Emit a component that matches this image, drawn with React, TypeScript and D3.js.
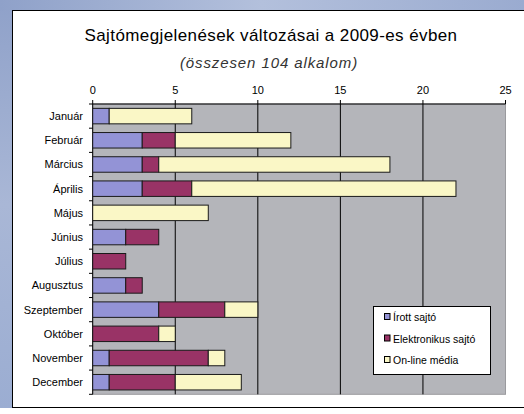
import React from 'react';
import * as d3 from 'd3';

const months = ['Január', 'Február', 'Március', 'Április', 'Május', 'Június', 'Július', 'Augusztus', 'Szeptember', 'Október', 'November', 'December'];
const irott = [1, 3, 3, 3, 0, 2, 0, 2, 4, 0, 1, 1];
const elektronikus = [0, 2, 1, 3, 0, 2, 2, 1, 4, 4, 6, 4];
const online = [5, 7, 14, 16, 7, 0, 0, 0, 2, 1, 1, 4];
const seriesNames = ['Írott sajtó', 'Elektronikus sajtó', 'On-line média'];
const colors = ['#9393d6', '#993366', '#faf7c6'];
const xTicks = [0, 5, 10, 15, 20, 25];

const W = 524, H = 414;
const left = 92.7, right = 505.5, top = 104, bottom = 394.3;
const font = '"Liberation Sans", Arial, sans-serif';

export default function App() {
  const x = d3.scaleLinear().domain([0, 25]).range([left, right]);
  const y = d3.scaleBand().domain(months).range([top, bottom]).paddingInner(0.36).paddingOuter(0.18);
  const step = y.step();

  const rows = months.map((m, i) => ({ m, a: irott[i], b: elektronikus[i], c: online[i] }));
  const stacked = d3.stack<any>().keys(['a', 'b', 'c'])(rows);

  return (
    <svg width={W} height={H} style={{ position: 'absolute', left: 0, top: 0 }} fontFamily={font}>
      <defs>
        <linearGradient id="bgL" x1="0" y1="0" x2="0" y2="1">
          <stop offset="0" stopColor="#8fa1c9" />
          <stop offset="0.5" stopColor="#a9b7d6" />
          <stop offset="1" stopColor="#9badd2" />
        </linearGradient>
        <linearGradient id="bgT" x1="0" y1="0" x2="1" y2="0">
          <stop offset="0" stopColor="#8fa1c9" />
          <stop offset="0.5" stopColor="#b3c0dc" />
          <stop offset="1" stopColor="#9aabd0" />
        </linearGradient>
      </defs>
      <rect x={0} y={0} width={W} height={H} fill="#ffffff" />
      <rect x={0} y={0} width={13} height={408} fill="url(#bgL)" />
      <rect x={0} y={0} width={W} height={10.5} fill="url(#bgT)" />
      <rect x={12.5} y={10.5} width={530} height={397} fill="#ffffff" stroke="#000" strokeWidth={1} />

      <text x={271} y={41} textAnchor="middle" fontSize={17} letterSpacing={0.4} fill="#000">Sajtómegjelenések változásai a 2009-es évben</text>
      <text x={269} y={68} textAnchor="middle" fontSize={15} letterSpacing={0.9} fontStyle="italic" fill="#333">(összesen 104 alkalom)</text>

      <rect x={left} y={top} width={right - left} height={bottom - top} fill="#b4b5ba" stroke="#9a9a9e" />
      {xTicks.slice(1, -1).map(t => (
        <line key={t} x1={x(t)} x2={x(t)} y1={top} y2={bottom} stroke="#000" strokeWidth={1} />
      ))}
      <line x1={left} x2={right} y1={top} y2={top} stroke="#000" />
      <line x1={left} x2={left} y1={top} y2={bottom} stroke="#000" />
      {xTicks.map(t => (
        <g key={t}>
          <line x1={x(t)} x2={x(t)} y1={100} y2={top} stroke="#000" />
          <text x={x(t)} y={94} textAnchor="middle" fontSize={11} fill="#000">{t}</text>
        </g>
      ))}
      {months.map((m, i) => (
        <line key={'yt' + i} x1={89} x2={left} y1={top + i * step} y2={top + i * step} stroke="#000" />
      ))}
      <line x1={89} x2={left} y1={bottom} y2={bottom} stroke="#000" />

      {stacked.map((s, si) => (
        <g key={si}>
          {s.map((d, i) => d[1] - d[0] > 0 ? (
            <rect key={i} x={x(d[0])} y={y(months[i])!} width={x(d[1]) - x(d[0])} height={y.bandwidth()}
              fill={colors[si]} stroke="#1a1a1a" strokeWidth={1} />
          ) : null)}
        </g>
      ))}

      {months.map(m => (
        <text key={m} x={83} y={y(m)! + y.bandwidth() / 2 + 4} textAnchor="end" fontSize={11} fill="#000">{m}</text>
      ))}

      <rect x={373.5} y={306.5} width={117} height={68} fill="#fff" stroke="#000" />
      {seriesNames.map((n, i) => (
        <g key={n}>
          <rect x={384.5} y={313.5 + i * 21.5} width={5.5} height={6} fill={colors[i]} stroke="#000" />
          <text x={393} y={321 + i * 21.5} fontSize={10.5} fill="#000">{n}</text>
        </g>
      ))}
    </svg>
  );
}
